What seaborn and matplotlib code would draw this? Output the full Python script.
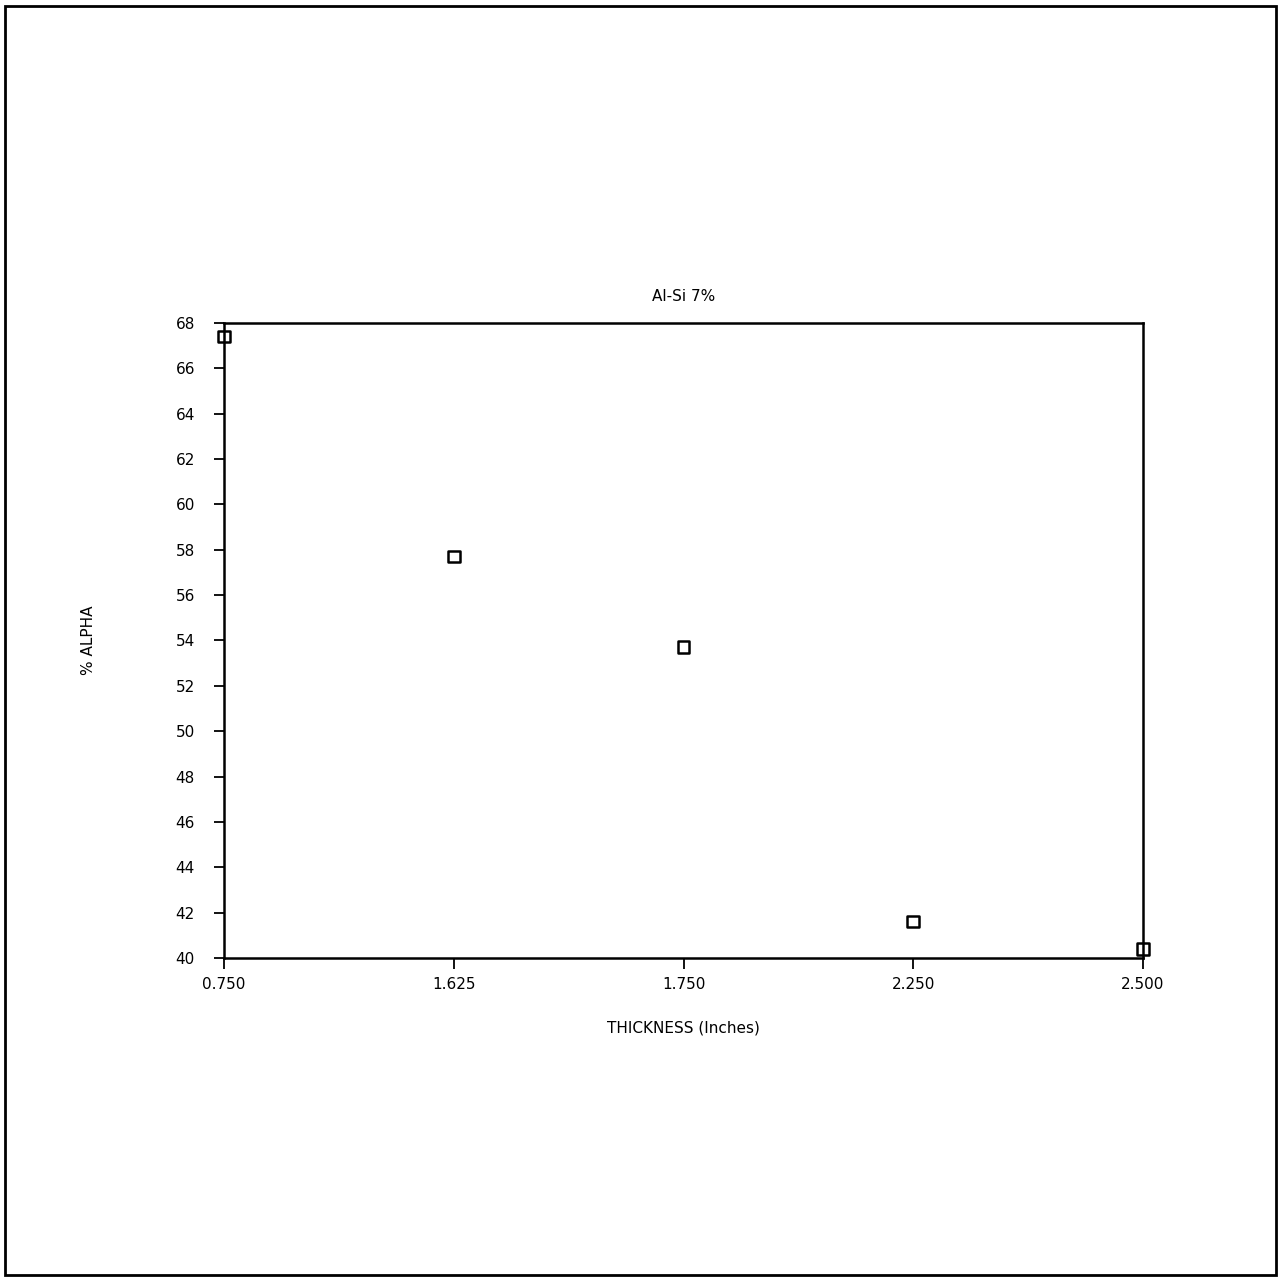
import matplotlib
matplotlib.use("Agg")
import matplotlib.pyplot as plt
import seaborn as sns
import pandas as pd
from matplotlib.patches import Rectangle

# data
thickness_labels = ["0.750", "1.625", "1.750", "2.250", "2.500"]
alpha_pct = [67.4, 57.7, 53.7, 41.6, 40.4]
y_ticks = list(range(40, 70, 2))

df = pd.DataFrame({"pos": range(len(thickness_labels)), "alpha": alpha_pct})

sns.set_style("ticks")
plt.rcParams["font.family"] = ["DejaVu Sans"]
plt.rcParams["text.color"] = "black"
plt.rcParams["axes.labelcolor"] = "black"
plt.rcParams["xtick.color"] = "black"
plt.rcParams["ytick.color"] = "black"

fig = plt.figure(figsize=(12.81, 12.79), dpi=100)
ax = fig.add_axes([0.1749, 0.2510, 0.7174, 0.4965])

sns.scatterplot(data=df, x="pos", y="alpha", marker="s", s=70,
                facecolor="none", edgecolor="black", linewidth=1.8,
                ax=ax, clip_on=False, zorder=5)

ax.set_xlim(0, len(thickness_labels) - 1)
ax.set_ylim(40, 68)
ax.set_xticks(df["pos"])
ax.set_xticklabels(thickness_labels)
ax.set_yticks(y_ticks)
ax.tick_params(axis="y", direction="out", length=7, width=1.3, pad=14,
               labelsize=11)
ax.tick_params(axis="x", direction="out", length=8, width=1.3, pad=6,
               labelsize=11)
for sp in ax.spines.values():
    sp.set_visible(True)
    sp.set_linewidth(1.8)
    sp.set_color("black")

ax.set_title("Al-Si 7%", fontsize=11, pad=16)
ax.set_xlabel("THICKNESS (Inches)", fontsize=11, labelpad=20)
ax.set_ylabel("% ALPHA", fontsize=11, labelpad=57)

# outer page frame
fig.patches.append(Rectangle((0.004, 0.003), 0.992, 0.992,
                             transform=fig.transFigure, fill=False,
                             edgecolor="black", linewidth=2.0))

fig.savefig("out.png", dpi=100)
